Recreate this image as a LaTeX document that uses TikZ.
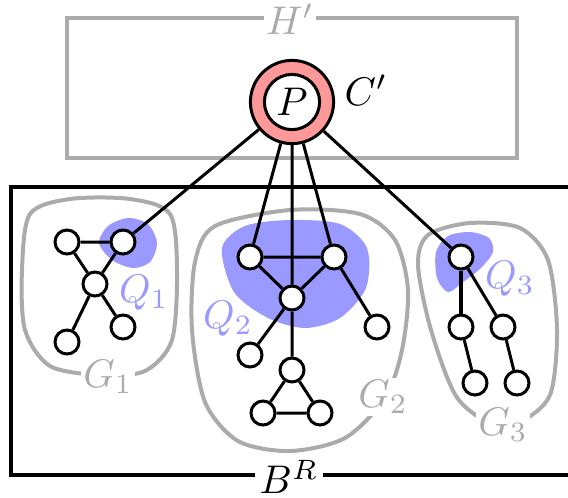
\documentclass[tikz,border=0pt]{standalone}
\begin{document}
\begin{tikzpicture}[x=0.25pt,y=-0.25pt,
  vtx/.style={circle, draw, fill=white, line width=0.75pt, minimum size=6pt, inner sep=0pt},
  hull/.style={black!33, line width=1pt},
  blob/.style={fill=blue!40},
  hlabel/.style={text=black!33, fill=white, inner sep=0.6pt},
  qlabel/.style={text=blue!40}]
\clip (0,0) rectangle (568,497);
\fill[blob] plot [smooth cycle] coordinates {(99,243) (108,226) (128,218) (148,224) (157,243) (150,262) (133,268) (112,260)};
\fill[blob] plot [smooth cycle] coordinates {(222,248) (245,226) (290,220) (340,224) (367,248) (366,288) (340,318) (305,328) (268,318) (234,292)};
\fill[blob] plot [smooth cycle] coordinates {(436,252) (448,236) (470,232) (489,238) (493,252) (481,268) (463,282) (448,292) (437,278)};
\draw[hull] (67,18) rectangle (517,158);
\draw[hull] plot [smooth cycle] coordinates {(22,270) (30,214) (70,199) (130,199) (170,214) (177,270) (172,340) (145,371) (100,375) (50,366) (25,330)};
\draw[hull] plot [smooth cycle] coordinates {(290,210) (360,214) (395,240) (408,290) (402,350) (385,398) (345,438) (290,451) (238,441) (205,402) (192,330) (195,262) (215,226)};
\draw[hull] plot [smooth cycle] coordinates {(470,223) (520,228) (548,260) (557,330) (550,395) (520,422) (490,423) (456,396) (431,330) (418,265) (428,235)};
\draw[line width=1pt] (580,187)--(11,187)--(11,475)--(580,475);
\node[hlabel] (h) at (290,19) {$H'$};
\node[hlabel, text=black, inner sep=1.2pt] (br) at (289,477) {$B^R$};
\node[hlabel] (g1) at (108,377) {$G_1$};
\node[hlabel] (g2) at (383,397) {$G_2$};
\node[hlabel] (g3) at (503,425) {$G_3$};
\node[qlabel] (q1) at (144,293) {$Q_1$};
\node[qlabel] (q2) at (228,319) {$Q_2$};
\node[qlabel] (q3) at (510,279) {$Q_3$};
\node[circle, draw, fill=red!40, line width=0.75pt, minimum size=20.8pt, inner sep=0pt] (cc) at (292,102) {};
\node[circle, draw, fill=white, line width=0.75pt, minimum size=13.8pt, inner sep=0pt] (p) at (292,102) {$P$};
\node (c) at (366,90) {$C'$};
\node[vtx] (a1) at (67,242) {};
\node[vtx] (a2) at (123,242) {};
\node[vtx] (a3) at (95,284) {};
\node[vtx] (a4) at (67,342) {};
\node[vtx] (a5) at (123,327) {};
\node[vtx] (b1) at (250,257) {};
\node[vtx] (b2) at (334,257) {};
\node[vtx] (b3) at (292,298) {};
\node[vtx] (b4) at (377,327) {};
\node[vtx] (b5) at (250,355) {};
\node[vtx] (b6) at (292,370) {};
\node[vtx] (b7) at (263,413) {};
\node[vtx] (b8) at (320,413) {};
\node[vtx] (c1) at (461,257) {};
\node[vtx] (c2) at (461,327) {};
\node[vtx] (c3) at (503,327) {};
\node[vtx] (c4) at (475,383) {};
\node[vtx] (c5) at (517,383) {};
\draw[line width=0.75pt] (a1)--(a2) (a1)--(a3) (a2)--(a3) (a3)--(a4) (a3)--(a5);
\draw[line width=0.75pt] (b1)--(b2) (b1)--(b3) (b2)--(b3) (b2)--(b4) (b3)--(b5) (b3)--(b6) (b6)--(b7) (b6)--(b8) (b7)--(b8);
\draw[line width=1.1pt] (c1)--(c2);
\draw[line width=0.75pt] (c1)--(c3) (c2)--(c4) (c3)--(c5);
\draw[line width=0.75pt] (cc)--(a2) (cc)--(b1) (cc)--(b3) (cc)--(b2) (cc)--(c1);
\end{tikzpicture}
\end{document}
